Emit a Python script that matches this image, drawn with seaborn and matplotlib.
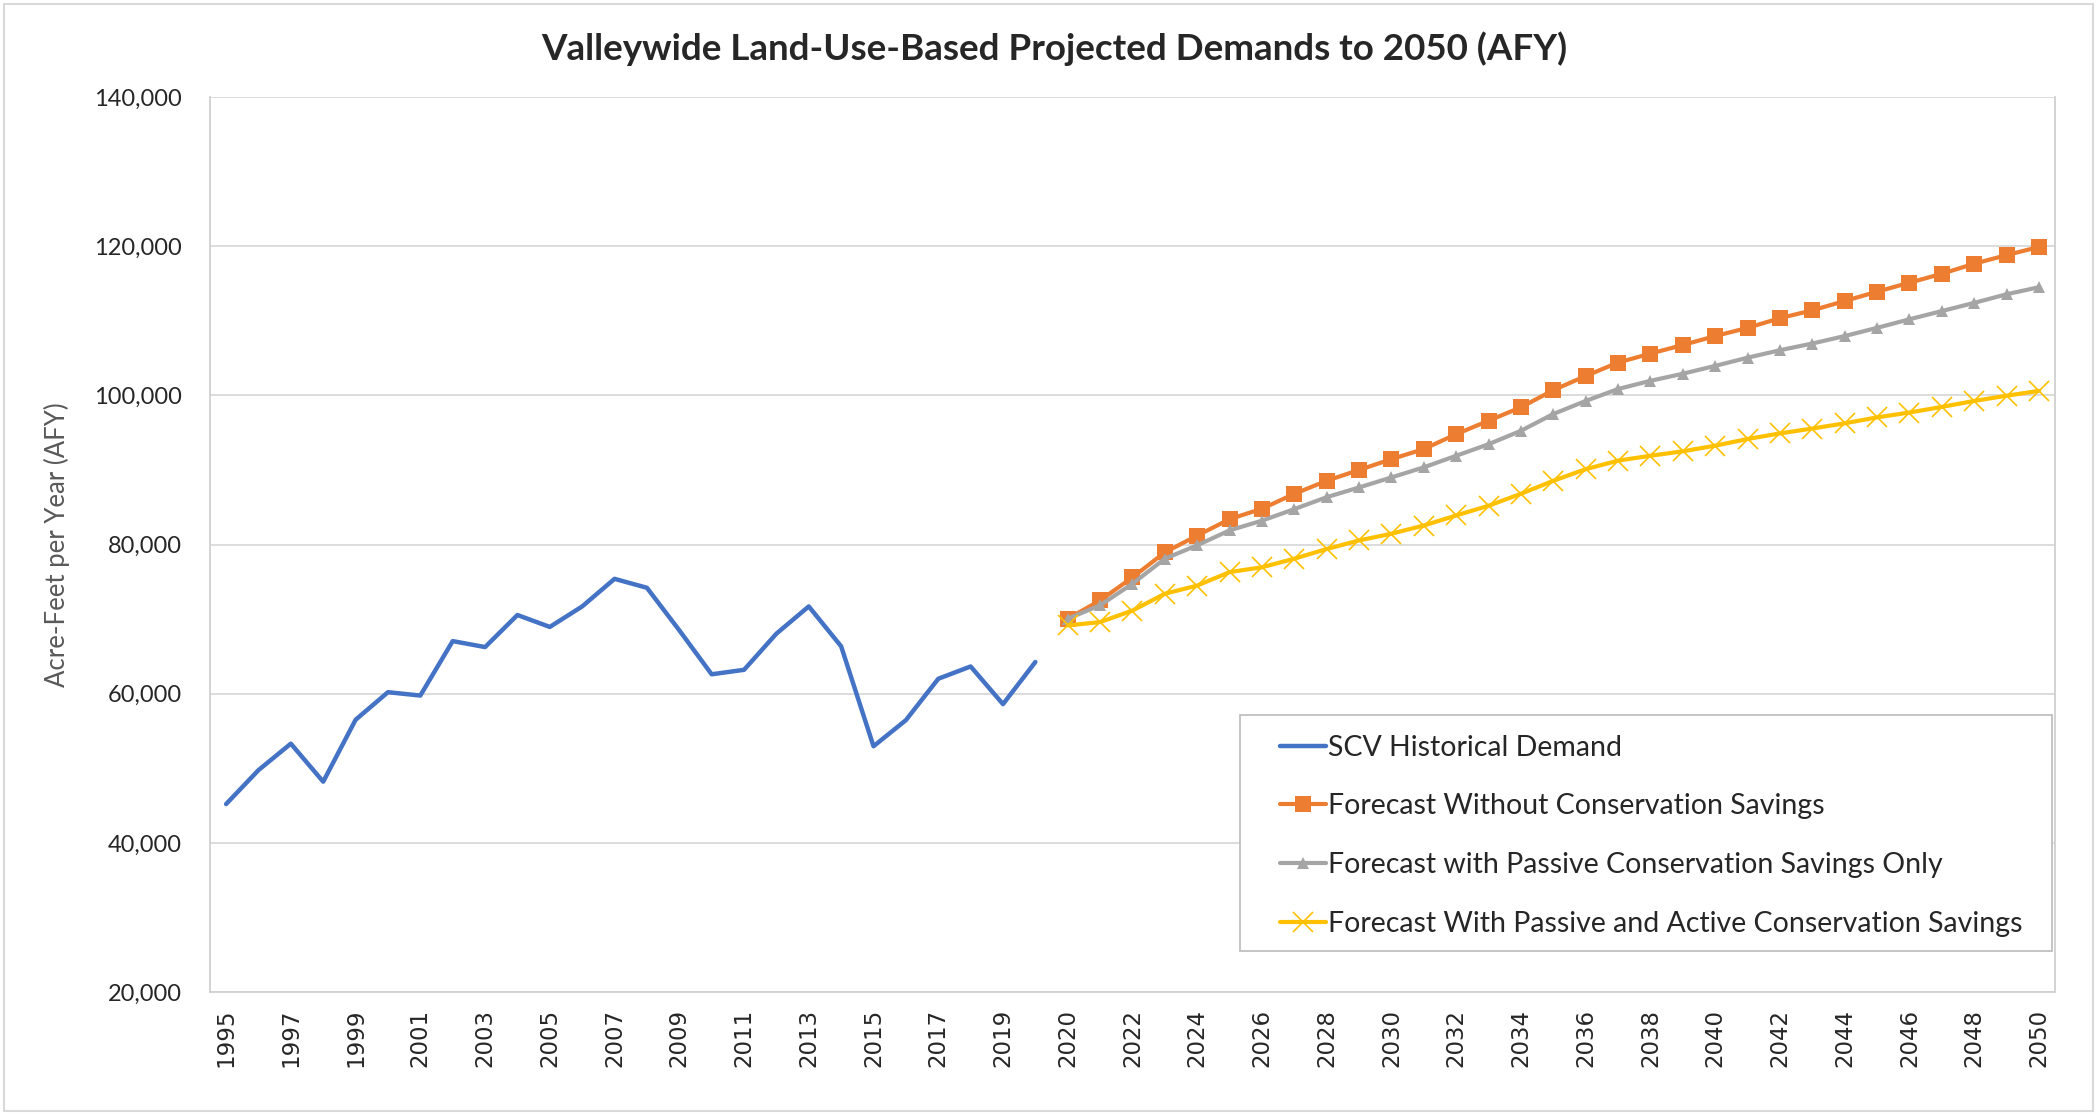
import numpy as np
import pandas as pd
import seaborn as sns
import matplotlib.pyplot as plt
from matplotlib.ticker import FuncFormatter
from matplotlib.patches import Rectangle

sns.set_style("white")
plt.rcParams["font.family"] = ["Lato", "DejaVu Sans"]

# -------------------------
# DATA
# -------------------------

hist_years = list(range(1995, 2021))
hist_demand = [45200, 49750, 53300, 48200, 56500, 60200, 59750, 67050, 66250, 70550,
               68950, 71700, 75400, 74200, 68500, 62600, 63200, 68050, 71700, 66350,
               52950, 56450, 62000, 63650, 58600, 64250]

fc_years = list(range(2020, 2051))
fc_no_cons = [70050, 72500, 75600, 78950, 81200, 83400, 84800, 86800, 88550, 90000,
              91450, 92800, 94800, 96600, 98400, 100700, 102600, 104400, 105600, 106750,
              107950, 109050, 110350, 111400, 112650, 113900, 115100, 116300, 117650, 118800,
              119900]
fc_passive = [70050, 71850, 74750, 78100, 79900, 81900, 83200, 84750, 86350, 87650,
              89000, 90350, 91900, 93450, 95250, 97500, 99250, 100850, 101950, 102900,
              103950, 105050, 106050, 106950, 107950, 109050, 110200, 111300, 112400, 113550,
              114500]
fc_active = [69150, 69600, 71150, 73400, 74500, 76300, 76950, 78100, 79400, 80550,
             81450, 82550, 83900, 85200, 86800, 88550, 90100, 91250, 91900, 92500,
             93250, 94150, 94900, 95550, 96250, 97050, 97700, 98450, 99250, 99950,
             100600]

# category positions: historical 1995-2020, then forecast 2020-2050
cat_labels = [str(y) for y in hist_years] + [str(y) for y in fc_years]
hist_pos = np.arange(len(hist_years))
fc_pos = np.arange(len(fc_years)) + len(hist_years)

hist_df = pd.DataFrame({"pos": hist_pos, "value": hist_demand})
fc_df = pd.DataFrame({"pos": fc_pos, "no_cons": fc_no_cons,
                      "passive": fc_passive, "active": fc_active})

# -------------------------
# PLOT
# -------------------------

fig = plt.figure(figsize=(20.97, 11.14), dpi=100)
ax = fig.add_axes([0.1001, 0.1095, 0.8799, 0.8034])

sns.lineplot(data=hist_df, x="pos", y="value", ax=ax, color="#4472C4", lw=3.2,
             label="SCV Historical Demand")
sns.lineplot(data=fc_df, x="pos", y="no_cons", ax=ax, color="#ED7D31", lw=3,
             marker="s", markersize=11, markeredgewidth=0, markeredgecolor="#ED7D31",
             label="Forecast Without Conservation Savings")
sns.lineplot(data=fc_df, x="pos", y="passive", ax=ax, color="#A5A5A5", lw=3,
             marker="^", markersize=8, markeredgewidth=0, markeredgecolor="#A5A5A5",
             label="Forecast with Passive Conservation Savings Only")
sns.lineplot(data=fc_df, x="pos", y="active", ax=ax, color="#FFC000", lw=3,
             marker="x", markersize=15, markeredgewidth=1.2, markeredgecolor="#FFC000",
             label="Forecast With Passive and Active Conservation Savings")

ax.set_xlim(-0.5, len(cat_labels) - 0.5)
ax.set_ylim(20000, 140000)
ax.set_yticks(np.arange(20000, 140001, 20000))
ax.yaxis.set_major_formatter(FuncFormatter(lambda v, p: f"{int(v):,}"))
ax.grid(axis="y", color="#D9D9D9", lw=1.3)
ax.grid(axis="x", visible=False)

ax.set_xticks(np.arange(0, len(cat_labels), 2))
ax.set_xticklabels(cat_labels[::2], rotation=90, fontsize=16.5,
                   family="DejaVu Sans")
ax.tick_params(axis="x", length=0, pad=12)
ax.tick_params(axis="y", length=0, pad=20, labelsize=17)

ax.set_xlabel("")
ax.set_ylabel("Acre-Feet per Year (AFY)", fontsize=18.5, color="#595959")
ax.yaxis.set_label_coords(-0.076, 0.5)

for side in ["left", "right", "bottom", "top"]:
    ax.spines[side].set_color("#D0D0D0")
    ax.spines[side].set_linewidth(1.3)
ax.spines["top"].set_visible(False)

# legend box drawn separately so the entries can sit further inside it
ax.add_patch(Rectangle((0.5583, 0.0458), 0.4401, 0.2637, transform=ax.transAxes,
                       facecolor="white", edgecolor="#BFBFBF", lw=1.3, zorder=4.5))
leg = ax.legend(loc="upper left", bbox_to_anchor=(0.580, 0.2875), fontsize=20.5,
                frameon=False, handlelength=1.6, handletextpad=0.1,
                labelspacing=1.15, borderpad=0, borderaxespad=0)
leg.set_zorder(5)

fig.text(0.5026, 0.956, "Valleywide Land-Use-Based Projected Demands to 2050 (AFY)",
         ha="center", va="center", fontsize=26.5, fontweight="bold")

fig.patches.append(Rectangle((0.002, 0.003), 0.996, 0.993, transform=fig.transFigure,
                             fill=False, edgecolor="#D9D9D9", lw=1.5))

fig.savefig("out.png", dpi=100)
